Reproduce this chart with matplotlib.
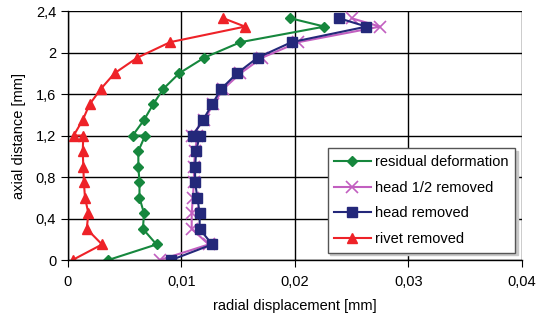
import numpy as np
import matplotlib
matplotlib.use('Agg')
import matplotlib.pyplot as plt
from matplotlib.ticker import FuncFormatter

plt.rcParams['font.family'] = ['Liberation Sans', 'DejaVu Sans']

# axial positions (mm), shared by all series
y_pos = [0, 0.15, 0.3, 0.45, 0.6, 0.75, 0.9, 1.05, 1.2, 1.2, 1.35, 1.5, 1.65,
         1.8, 1.95, 2.1, 2.25, 2.33]

# radial displacement (mm)
residual = [0.00355, 0.0078, 0.0066, 0.0067, 0.0063, 0.0063, 0.0062, 0.0062,
            0.0068, 0.0057, 0.0067, 0.0075, 0.0084, 0.0098, 0.0120, 0.0152,
            0.0226, 0.0196]
head_half = [0.0081, 0.0124, 0.0109, 0.0109, 0.0110, 0.0111, 0.0111, 0.0112,
             0.0114, 0.0109, 0.0120, 0.0128, 0.0137, 0.0152, 0.0171, 0.0203,
             0.0275, 0.0250]
head = [0.0091, 0.0127, 0.0116, 0.0116, 0.0114, 0.0112, 0.0112, 0.0113,
        0.0116, 0.0110, 0.0119, 0.0127, 0.0135, 0.0149, 0.0167, 0.0197,
        0.0263, 0.0239]
rivet = [0.0004, 0.0030, 0.00165, 0.0018, 0.0015, 0.0014, 0.00135, 0.0013,
         0.00135, 0.0005, 0.0013, 0.0019, 0.0029, 0.0041, 0.0061, 0.0090,
         0.0156, 0.0137]

fig = plt.figure(figsize=(5.37, 3.2), dpi=100)
ax = fig.add_axes([0.1266, 0.1875, 0.8454, 0.778])

ax.plot(residual, y_pos, color='#16873d', marker='D', ms=5, lw=1.5,
        label='residual deformation')
ax.plot(head_half, y_pos, color='#c25fc0', marker='x', ms=8, mew=1.2, lw=1.5,
        label='head 1/2 removed')
ax.plot(head, y_pos, color='#24287a', marker='s', ms=7, lw=1.5,
        label='head removed')
ax.plot(rivet, y_pos, color='#ee2228', marker='^', ms=7.5, lw=1.5,
        label='rivet removed')

ax.set_xlim(0, 0.04)
ax.set_ylim(0, 2.4)
ax.set_xticks([0, 0.01, 0.02, 0.03, 0.04])
ax.set_yticks([0, 0.4, 0.8, 1.2, 1.6, 2.0, 2.4])

comma = FuncFormatter(lambda v, p: ('%g' % round(v, 4)).replace('.', ','))
ax.xaxis.set_major_formatter(comma)
ax.yaxis.set_major_formatter(comma)
ax.tick_params(labelsize=10.5, direction='out', length=5, color='black')
ax.tick_params(axis='x', pad=6)

ax.grid(True, color='black', lw=1.0)
for s in ['top', 'right']:
    ax.spines[s].set_visible(False)
ax.spines['left'].set_linewidth(1.0)
ax.spines['bottom'].set_linewidth(1.0)

ax.set_xlabel('radial displacement [mm]', fontsize=10.5, labelpad=7)
ax.set_ylabel('axial distance [mm]', fontsize=10.5, labelpad=7)

leg = ax.legend(loc='lower right', bbox_to_anchor=(0.985, 0.03), fontsize=10.5,
                frameon=True, fancybox=False, shadow={'color': '#c8c8c8', 'alpha': 1},
                handlelength=2.5, borderpad=0.45, labelspacing=0.8,
                handletextpad=0.3, borderaxespad=0, framealpha=1)
leg.get_frame().set_edgecolor('#555555')
leg.get_frame().set_linewidth(1.0)

fig.savefig('out.png', dpi=100)
